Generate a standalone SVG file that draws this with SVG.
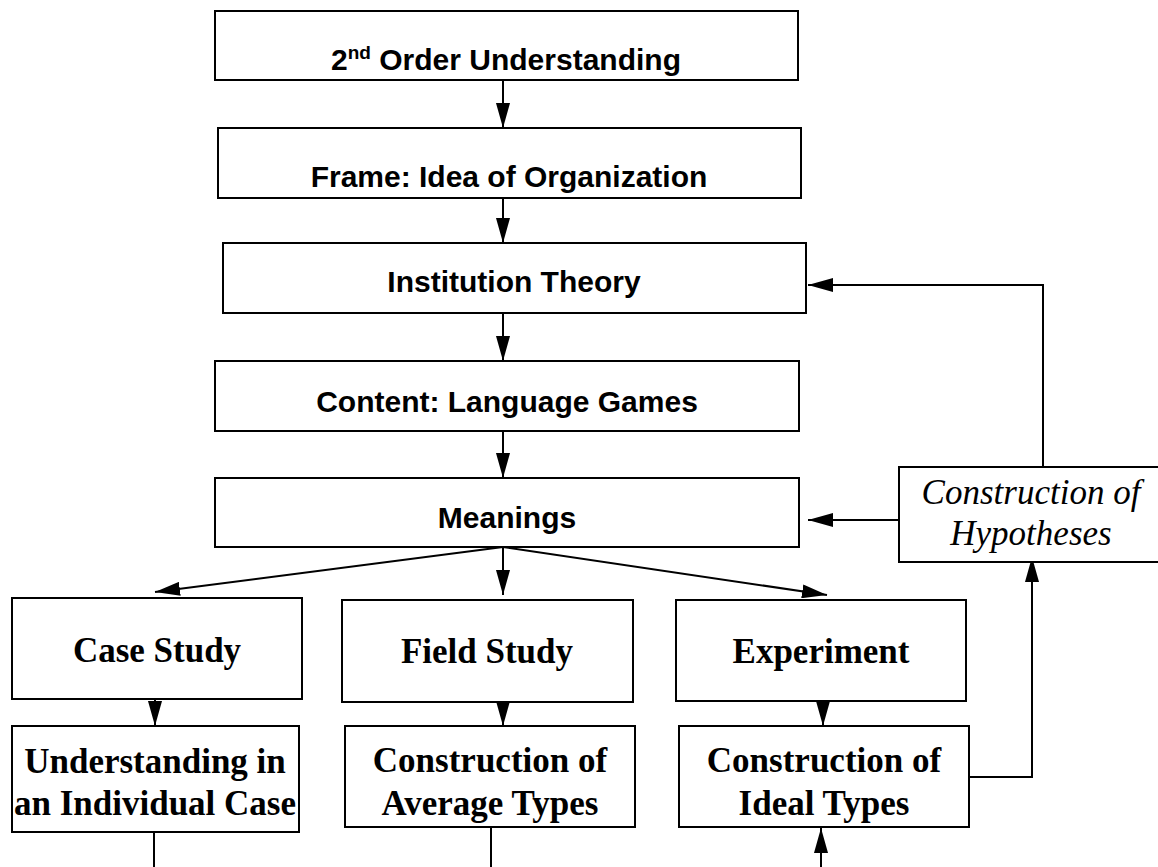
<svg xmlns="http://www.w3.org/2000/svg" width="1158" height="867" viewBox="0 0 1158 867">
<style>
.box{fill:#fff;stroke:#000;stroke-width:2}
.sans{font-family:"Liberation Sans",Arial,sans-serif;font-weight:bold;font-size:30px;fill:#000;text-anchor:middle}
.serif{font-family:"Liberation Serif","Times New Roman",serif;font-weight:bold;font-size:35px;fill:#000;text-anchor:middle}
.ital{font-family:"Liberation Serif","Times New Roman",serif;font-style:italic;font-size:35px;fill:#000;text-anchor:middle}
.conn{fill:none;stroke:#000;stroke-width:2}
</style>
<defs>
<marker id="ah" markerUnits="userSpaceOnUse" markerWidth="26" markerHeight="14" refX="25" refY="7" orient="auto">
<path d="M0,0 L25,7 L0,14 z" fill="#000"/>
</marker>
</defs>
<rect width="1158" height="867" fill="#fff"/>
<g id="connectors">
<path class="conn" d="M503,80 V128" marker-end="url(#ah)"/>
<path class="conn" d="M503,198 V243" marker-end="url(#ah)"/>
<path class="conn" d="M503,313 V361" marker-end="url(#ah)"/>
<path class="conn" d="M503,431 V478" marker-end="url(#ah)"/>
<path class="conn" d="M503,547 L155,592" marker-end="url(#ah)"/>
<path class="conn" d="M503,547 V595" marker-end="url(#ah)"/>
<path class="conn" d="M503,547 L827,595" marker-end="url(#ah)"/>
<path class="conn" d="M155,699 V726" marker-end="url(#ah)"/>
<path class="conn" d="M503,702 V726" marker-end="url(#ah)"/>
<path class="conn" d="M823,701 V726" marker-end="url(#ah)"/>
<path class="conn" d="M154,832 V867"/>
<path class="conn" d="M491,827 V867"/>
<path class="conn" d="M821,867 V828" marker-end="url(#ah)"/>
<path class="conn" d="M969,777 H1032 V557" marker-end="url(#ah)"/>
<path class="conn" d="M899,520 H808" marker-end="url(#ah)"/>
<path class="conn" d="M1043,467 V285 H808" marker-end="url(#ah)"/>
</g>
<g id="n-second-order">
<rect class="box" x="215" y="11" width="583" height="69"/>
<text class="sans" x="506" y="70">2<tspan font-size="19" dy="-11">nd</tspan><tspan dy="11"> Order Understanding</tspan></text>
</g>
<g id="n-frame">
<rect class="box" x="218" y="128" width="583" height="70"/>
<text class="sans" x="509" y="187">Frame: Idea of Organization</text>
</g>
<g id="n-institution">
<rect class="box" x="223" y="243" width="583" height="70"/>
<text class="sans" x="514" y="292">Institution Theory</text>
</g>
<g id="n-content">
<rect class="box" x="215" y="361" width="584" height="70"/>
<text class="sans" x="507" y="412">Content: Language Games</text>
</g>
<g id="n-meanings">
<rect class="box" x="215" y="478" width="584" height="69"/>
<text class="sans" x="507" y="528">Meanings</text>
</g>
<g id="n-hypotheses">
<rect class="box" x="899" y="467" width="270" height="95"/>
<text class="ital" x="1031" y="504">Construction of</text>
<text class="ital" x="1031" y="545">Hypotheses</text>
</g>
<g id="n-case-study">
<rect class="box" x="12" y="598" width="290" height="101"/>
<text class="serif" x="157" y="662">Case Study</text>
</g>
<g id="n-field-study">
<rect class="box" x="342" y="600" width="291" height="102"/>
<text class="serif" x="487" y="663">Field Study</text>
</g>
<g id="n-experiment">
<rect class="box" x="676" y="600" width="290" height="101"/>
<text class="serif" x="821" y="663">Experiment</text>
</g>
<g id="n-understanding">
<rect class="box" x="12" y="726" width="287" height="106"/>
<text class="serif" x="155" y="773">Understanding in</text>
<text class="serif" x="155" y="815">an Individual Case</text>
</g>
<g id="n-average">
<rect class="box" x="345" y="726" width="290" height="101"/>
<text class="serif" x="490" y="772">Construction of</text>
<text class="serif" x="490" y="815">Average Types</text>
</g>
<g id="n-ideal">
<rect class="box" x="679" y="726" width="290" height="101"/>
<text class="serif" x="824" y="772">Construction of</text>
<text class="serif" x="824" y="815">Ideal Types</text>
</g>
</svg>
